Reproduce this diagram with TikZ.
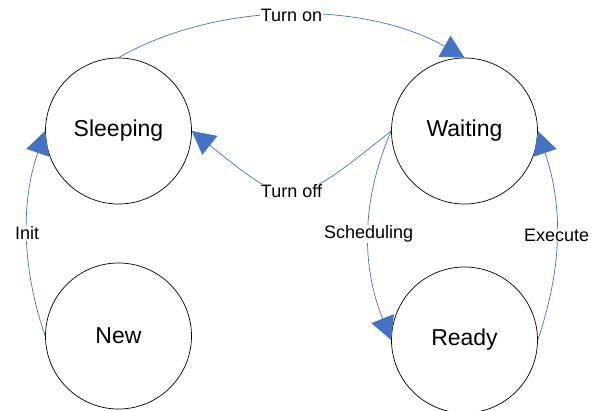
\documentclass[tikz,border=0pt]{standalone}
\usepackage{fontspec}
\setmainfont{Liberation Sans}
\usetikzlibrary{arrows.meta}
\definecolor{linkblue}{RGB}{68,114,196}

\begin{document}
\begin{tikzpicture}[x=1pt,y=1pt,yscale=-1,
  state/.style={draw=black,line width=0.7pt,circle,minimum size=146pt,inner sep=0pt,font=\fontsize{23}{27}\selectfont},
  trans/.style={draw=linkblue,line width=0.7pt,-{Triangle[length=23pt,width=24pt]}},
  lbl/.style={fill=white,inner sep=0.6pt,font=\fontsize{18}{21}\selectfont}]
\useasboundingbox (0,0) rectangle (597,410);
% states
\node[state] (sleeping) at (118.5,131) {Sleeping};
\node[state] (waiting) at (464.5,131) {Waiting};
\node[state] (new) at (118.5,336) {New};
\node[state] (ready) at (464.5,340) {Ready};
% transitions
\draw[trans] (sleeping.north) .. controls +(100,-57) and +(-100,-57) .. node[lbl] {Turn on} (waiting.north);
\draw[trans] (waiting.west) .. controls +(-100,80) and +(100,80) .. node[lbl] {Turn off} (sleeping.east);
\draw[trans] (new.west) .. controls +(-24,-70) and +(-24,70) .. node[lbl] {Init} (sleeping.west);
\draw[trans] (waiting.west) .. controls +(-30,70) and +(-30,-75) .. node[lbl] {Scheduling} (ready.west);
\draw[trans] (ready.east) .. controls +(25,-75) and +(25,75) .. node[lbl] {Execute} (waiting.east);
\end{tikzpicture}
\end{document}
